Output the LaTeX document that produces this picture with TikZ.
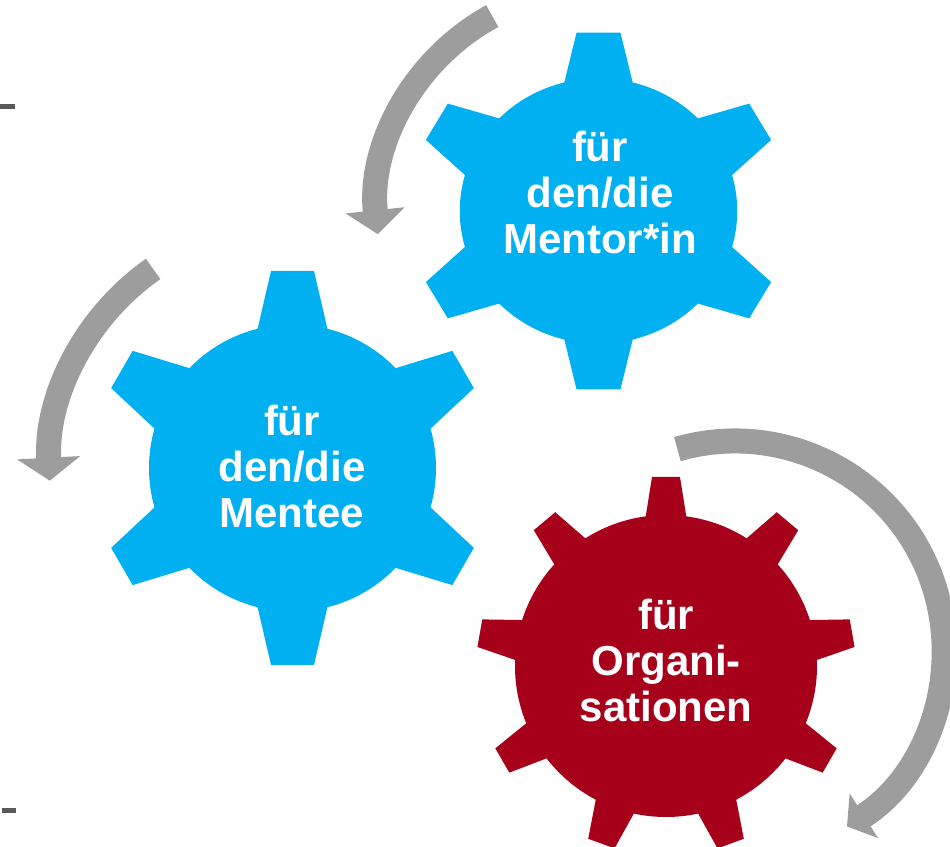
\documentclass[tikz,border=0pt]{standalone}
\usepackage{fontspec}
\setmainfont{Liberation Sans}
\usepackage{xcolor}
\definecolor{gearblue}{HTML}{00B0F0}
\definecolor{gearred}{HTML}{A6001A}
\definecolor{arrowgray}{HTML}{9D9D9D}
\definecolor{dashgray}{HTML}{595959}
\usepackage{tikz}
\usetikzlibrary{arrows.meta,positioning,calc}

\begin{document}
\begin{tikzpicture}[x=1pt, y=1pt,
    gearlabel/.style={text=white, align=center, inner sep=0pt, font=\bfseries\fontsize{42}{46}\selectfont},
    turn/.style={arrowgray, line width=25pt}]
        \clip (0,0) rectangle (950,846);
        \coordinate (mentor) at (598.5,635);
        \coordinate (mentee) at (292.5,378);
        \coordinate (orga) at (666,180);
        \coordinate (orgaturn) at (735,196);
        % Gear for the mentor
        \begin{scope}[shift={(mentor)}, xscale=1.02, yscale=0.975]
          \fill[gearblue] (0,0) circle (136pt);
          \foreach \a in {90,150,...,390}
            \fill[gearblue, rotate=\a] (100,-41) -- (183,-21.5) -- (183,21.5) -- (100,41) -- cycle;
        \end{scope}
        % Gear for the mentee
        \begin{scope}[shift={(mentee)}]
          \fill[gearblue] (0,0) circle (143.5pt);
          \foreach \a in {90,150,...,390}
            \fill[gearblue, rotate=\a] (100,-44) -- (197,-21.5) -- (197,21.5) -- (100,44) -- cycle;
        \end{scope}
        % Gear for organisations
        \begin{scope}[shift={(orga)}]
          \fill[gearred] (0,0) circle (151pt);
          \foreach \a in {90,130,...,410}
            \fill[gearred, rotate=\a] (120,-25) -- (189,-14) -- (189,14) -- (120,25) -- cycle;
        \end{scope}
        % Labels
        \node[gearlabel] (mentorlabel) at (600,654) {für\\den/die\\Mentor*in};
        \node[gearlabel] (menteelabel) at (292,380) {für\\den/die\\Mentee};
        \node[gearlabel] (orgalabel) at (666,185.5) {für\\Organi-\\sationen};
        % Turning arrows
        \draw[turn, -{Triangle[width=58pt, length=24pt]}] ([shift={(118.6:222pt)}]mentor) arc[start angle=118.6, end angle=186, radius=222pt];
        \draw[turn, -{Triangle[width=62pt, length=23pt]}] ([shift={(125:243pt)}]mentee) arc[start angle=125, end angle=183, radius=243pt];
        \draw[turn, -{Triangle[width=52pt, length=20pt]}] ([shift={(106:209pt)}]orgaturn) arc[start angle=106, end angle=-57.6, radius=209pt];
        % Dashes at the left edge
        \fill[dashgray] (0,737) rectangle (15,742);
        \fill[dashgray] (2,33) rectangle (16,38);
      \end{tikzpicture}
\end{document}
